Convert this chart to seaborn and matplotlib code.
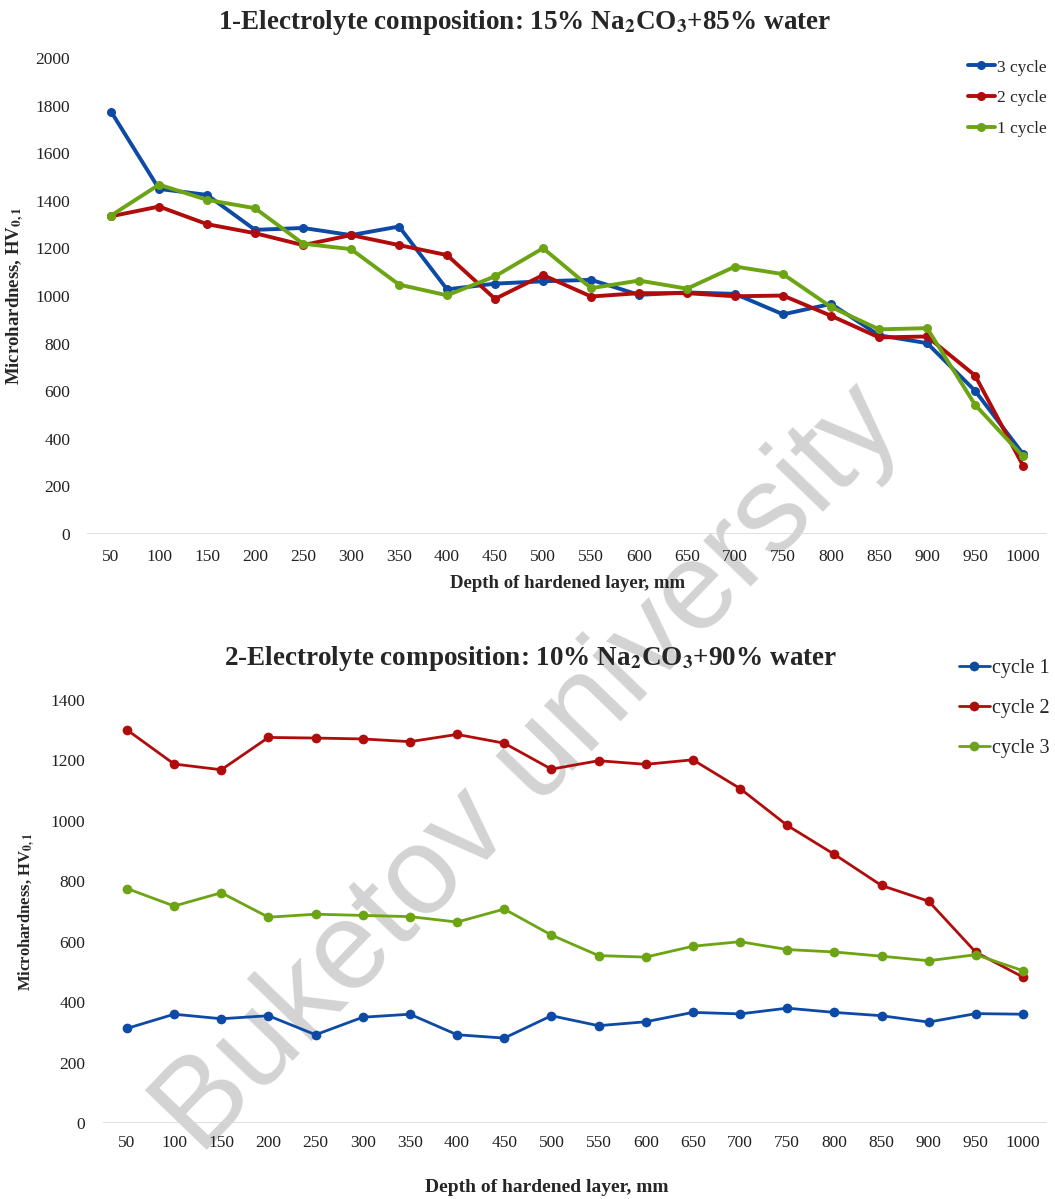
import numpy as np
import pandas as pd
import matplotlib
matplotlib.use('Agg')
import matplotlib.pyplot as plt
import seaborn as sns

# depth of hardened layer (x categories)
depth = [50, 100, 150, 200, 250, 300, 350, 400, 450, 500,
         550, 600, 650, 700, 750, 800, 850, 900, 950, 1000]

# chart 1 : 15% Na2CO3 + 85% water
top_3cycle = [1775, 1450, 1425, 1278, 1286, 1256, 1292, 1028, 1052, 1062,
              1068, 1005, 1015, 1009, 923, 967, 835, 802, 602, 336]
top_2cycle = [1335, 1376, 1302, 1264, 1214, 1256, 1214, 1172, 988, 1088,
              998, 1012, 1012, 999, 1002, 917, 826, 830, 666, 287]
top_1cycle = [1338, 1468, 1404, 1369, 1220, 1197, 1048, 1003, 1083, 1201,
              1033, 1065, 1031, 1124, 1092, 954, 860, 865, 543, 326]
top_names = ['3 cycle', '2 cycle', '1 cycle']

# chart 2 : 10% Na2CO3 + 90% water
bot_cycle1 = [313, 360, 345, 355, 292, 350, 360, 292, 281, 355,
              322, 335, 366, 361, 380, 366, 355, 334, 362, 360]
bot_cycle2 = [1301, 1188, 1169, 1276, 1274, 1271, 1262, 1286, 1257, 1171,
              1199, 1187, 1202, 1107, 985, 889, 786, 734, 565, 483]
bot_cycle3 = [776, 718, 762, 681, 691, 687, 683, 665, 708, 622,
              554, 549, 585, 600, 574, 566, 552, 537, 557, 504]
bot_names = ['cycle 1', 'cycle 2', 'cycle 3']

blue, red, green = '#0c4aa6', '#b00c0c', '#6ca413'

sns.set_style('white')
plt.rcParams['font.family'] = ['Liberation Serif', 'DejaVu Serif']
plt.rcParams['mathtext.fontset'] = 'stix'


def long_df(names, series):
    rows = []
    for n, s in zip(names, series):
        for d, v in zip(depth, s):
            rows.append({'depth': d, 'hv': v, 'series': n})
    return pd.DataFrame(rows)


df_top = long_df(top_names, [top_3cycle, top_2cycle, top_1cycle])
df_bot = long_df(bot_names, [bot_cycle1, bot_cycle2, bot_cycle3])

fig = plt.figure(figsize=(10.55, 11.99), dpi=100)
ax1 = fig.add_axes([0.0825, 0.5546, 0.910, 0.397])
ax2 = fig.add_axes([0.098, 0.0634, 0.894, 0.3528])

sns.lineplot(data=df_top, x='depth', y='hv', hue='series', hue_order=top_names,
             palette=[blue, red, green], marker='o', markersize=6.5,
             markeredgewidth=0, linewidth=2.8, ax=ax1)
sns.lineplot(data=df_bot, x='depth', y='hv', hue='series', hue_order=bot_names,
             palette=[blue, red, green], marker='o', markersize=7,
             markeredgewidth=0, linewidth=2.0, ax=ax2)


def style(ax, ymax, step, xpad, ypad):
    ax.set_xlim(25, 1025)
    ax.set_ylim(0, ymax)
    ax.set_xticks(depth)
    ax.set_xticklabels([str(d) for d in depth])
    ax.set_yticks(np.arange(0, ymax + 1, step))
    for s in ax.spines.values():
        s.set_visible(False)
    ax.patch.set_alpha(0)
    ax.axhline(0, color='#d9d9d9', lw=1.2, zorder=0)
    ax.tick_params(axis='both', length=0, labelsize=12.5, colors='#222222')
    ax.tick_params(axis='x', pad=xpad)
    ax.tick_params(axis='y', pad=ypad)


style(ax1, 2000, 200, 11, 12)
style(ax2, 1400, 200, 9, 13)

ax1.set_xlabel('Depth of hardened layer, mm', fontsize=13.5, fontweight='bold', labelpad=7)
ax1.set_ylabel('Microhardness, HV$_{\\mathbf{0,1}}$', fontsize=13.5, fontweight='bold', labelpad=7)
ax2.set_xlabel('Depth of hardened layer, mm', fontsize=14, fontweight='bold')
ax2.xaxis.set_label_coords(0.47, -0.132)
ax2.set_ylabel('Microhardness, HV$_{\\mathbf{0,1}}$', fontsize=12, fontweight='bold', labelpad=10)

fig.text(0.497, 0.981, '1-Electrolyte composition: 15% Na$_\\mathbf{2}$CO$_\\mathbf{3}$+85% water',
         ha='center', va='center', fontsize=19.5, fontweight='bold')
fig.text(0.503, 0.451, '2-Electrolyte composition: 10% Na$_\\mathbf{2}$CO$_\\mathbf{3}$+90% water',
         ha='center', va='center', fontsize=19.5, fontweight='bold')

ax1.legend(loc='upper right', bbox_to_anchor=(1.016, 1.03), frameon=False, fontsize=12.5,
           handlelength=1.6, handletextpad=0.1, labelspacing=0.85)
ax2.legend(loc='upper right', bbox_to_anchor=(1.022, 1.14), frameon=False, fontsize=14.5,
           handlelength=1.5, handletextpad=0.1, labelspacing=1.05)

# watermark, behind the lines
fig.text(0.502, 0.358, 'Buketov university', rotation=46, ha='center', va='center',
         fontsize=90, color='#d3d3d3', family='Liberation Sans', zorder=-1)

fig.savefig('out.png', dpi=100)
